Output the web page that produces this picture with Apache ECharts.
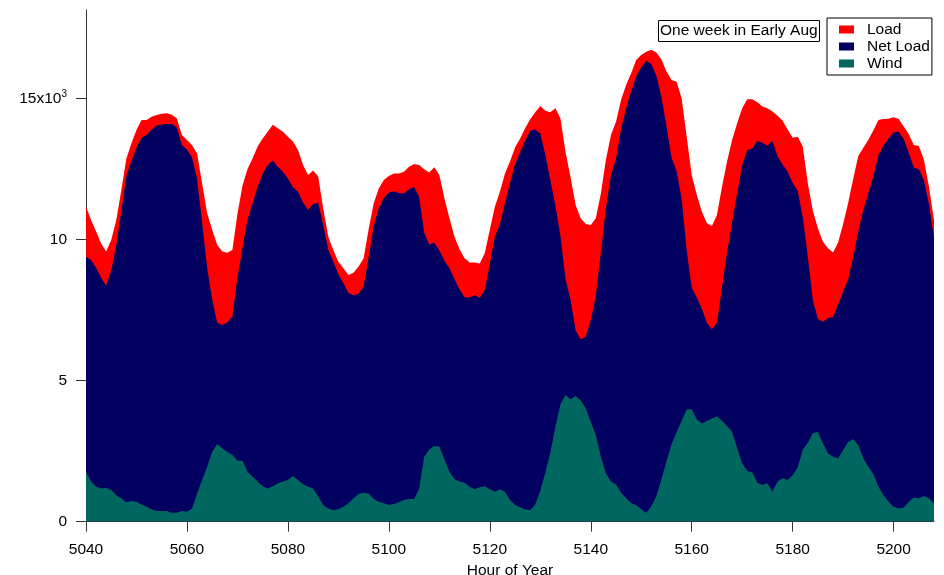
<!DOCTYPE html>
<html>
<head>
<meta charset="utf-8">
<script src="https://cdn.jsdelivr.net/npm/echarts@6.0.0/dist/echarts.min.js"></script>
<style>
html,body{margin:0;padding:0;background:#fff;}
#chart{width:944px;height:575px;}
</style>
</head>
<body>
<div id="chart"></div>
<script>
var startHour = 5040;
var endHour = 5208;
var xTicks = [5040, 5060, 5080, 5100, 5120, 5140, 5160, 5180, 5200];
var xTickLabels = ['5040', '5060', '5080', '5100', '5120', '5140', '5160', '5180', '5200'];
var yTicks = [0, 5000, 10000, 15000];
var yTickLabels = ['0', '5', '10', '15x10{sup|3}'];
var seriesNames = ['Load', 'Net Load', 'Wind'];
var titleText = 'One week in Early Aug';
var xAxisTitle = 'Hour of Year';

var load = [
11160,10690,10280,9860,9570,9980,10690,11750,12870,13410,
13880,14230,14230,14350,14410,14450,14470,14420,14290,13700,
13520,13350,13050,11990,10930,10340,9800,9570,9530,9630,
10900,11900,12500,12870,13290,13580,13820,14060,13940,13820,
13640,13470,13170,12640,12280,12440,12230,11100,10100,9630,
9210,8980,8740,8820,9040,9330,10370,11280,11810,12110,
12250,12340,12340,12400,12580,12670,12640,12490,12370,12560,
12280,11460,10750,10100,9650,9330,9180,9180,9150,9510,
10340,11160,11690,12340,12760,13260,13580,13940,14260,14510,
14730,14560,14510,14650,14290,13100,12200,11220,10750,10550,
10510,10750,11630,12820,13700,14170,14940,15470,15890,16360,
16540,16650,16720,16620,16380,15950,15650,15590,15000,13640,
12280,11580,10990,10570,10480,10870,11870,12760,13520,14120,
14650,14970,14970,14860,14710,14650,14530,14380,14210,13900,
13600,13640,13290,11990,11020,10390,9920,9690,9540,9890,
10550,11300,12150,12960,13250,13530,13870,14230,14270,14280,
14330,14270,14000,13730,13350,13310,12820,11870,10690
];

var netLoad = [
9390,9270,9000,8640,8370,8900,9800,11000,12250,12780,
13250,13600,13700,13900,14040,14070,14090,14100,13970,13340,
13190,12900,12150,10600,9000,7860,7050,6970,7060,7270,
8650,9710,10700,11280,11870,12320,12640,12800,12580,12400,
12160,11850,11690,11310,11040,11260,11300,10510,9630,9220,
8770,8450,8100,8020,8080,8330,9370,10480,11100,11460,
11660,11710,11650,11630,11780,11870,11500,10250,9820,9880,
9620,9250,8980,8600,8230,7950,7940,8030,7930,8200,
9130,10100,10540,11280,11990,12670,13080,13500,13850,13900,
13750,13000,12100,11200,10120,8600,7860,6780,6460,6550,
7150,8000,9550,11110,12280,12850,13910,14640,15240,15770,
16100,16330,16220,15800,15050,14000,12900,12420,11450,9630,
8290,7940,7550,7050,6820,7050,8300,9550,10600,11650,
12620,13170,13220,13500,13430,13320,13490,12950,12660,12410,
12000,11730,10800,9400,7850,7180,7080,7220,7250,7700,
8150,8600,9350,10300,11050,11650,12250,12990,13330,13570,
13800,13820,13560,13070,12550,12490,12100,11250,10070
];

var wind = [
1770,1420,1240,1180,1200,1120,940,830,690,730,
710,610,530,440,380,380,380,320,320,380,
350,470,1000,1480,1950,2480,2750,2600,2470,2360,
2160,2160,1770,1590,1420,1260,1180,1260,1360,1420,
1480,1620,1480,1330,1240,1180,890,590,470,410,
440,530,650,830,980,1030,1000,800,710,650,
590,630,690,770,800,800,1180,2300,2560,2680,
2660,2210,1770,1500,1420,1380,1240,1150,1220,1260,
1150,1060,1150,1060,770,590,500,440,410,610,
1100,1740,2450,3370,4170,4490,4340,4450,4290,4020,
3540,3070,2300,1710,1420,1320,1030,830,650,590,
440,320,550,910,1500,2130,2750,3170,3580,3980,
3980,3630,3480,3570,3660,3740,3580,3390,3190,2600,
2070,1800,1750,1380,1300,1360,1060,1420,1540,1480,
1650,1930,2560,2800,3130,3190,2780,2420,2300,2240,
2540,2830,2920,2720,2240,1950,1690,1240,940,710,
530,470,500,710,860,830,910,830,650
];

var colors = ['#FF0000', '#010060', '#006660'];
var font = 'Liberation Sans, Arial, sans-serif';
var fs = 15.5;

function pairs(vals) {
  return vals.map(function (v, i) { return [startHour + i, v]; });
}

function areaSeries(name, vals, color) {
  return {
    name: name,
    type: 'line',
    data: pairs(vals),
    symbol: 'none',
    showSymbol: false,
    silent: true,
    lineStyle: { width: 0, opacity: 0 },
    itemStyle: { color: color },
    areaStyle: { color: color, opacity: 1 },
    animation: false
  };
}

var chart = echarts.init(document.getElementById('chart'), null, { renderer: 'canvas' });
chart.setOption({
  animation: false,
  backgroundColor: '#fff',
  title: {
    text: titleText,
    left: 658,
    top: 20,
    padding: [3, 2, 3, 2],
    borderColor: '#000',
    borderWidth: 1,
    textStyle: { fontFamily: font, fontSize: fs, fontWeight: 'normal', color: '#000', lineHeight: 16 }
  },
  legend: {
    data: seriesNames.map(function (n) { return { name: n, icon: 'rect' }; }),
    orient: 'vertical',
    left: 827,
    top: 18,
    padding: [3, 2, 3, 12],
    itemWidth: 15,
    itemHeight: 8,
    itemGap: 0,
    selectedMode: false,
    borderColor: '#000',
    borderWidth: 1,
    textStyle: { fontFamily: font, fontSize: fs, color: '#000', lineHeight: 17, padding: [0, 0, 0, 8] }
  },
  grid: { left: 86, right: 10, top: 10, bottom: 53.3, containLabel: false, outerBoundsMode: 'none' },
  xAxis: {
    type: 'value',
    min: startHour,
    max: endHour,
    interval: 20,
    name: xAxisTitle,
    nameLocation: 'middle',
    nameGap: 41,
    nameTextStyle: { fontFamily: font, fontSize: fs, color: '#000' },
    axisLine: { show: true, onZero: false, lineStyle: { color: '#333', width: 1 } },
    axisTick: { show: true, inside: false, length: 10, customValues: xTicks, lineStyle: { color: '#333' } },
    axisLabel: {
      customValues: xTicks,
      fontFamily: font,
      fontSize: fs,
      color: '#000',
      margin: 20,
      formatter: function (v) {
        var idx = xTicks.indexOf(v);
        return idx >= 0 ? xTickLabels[idx] : '';
      }
    },
    splitLine: { show: false }
  },
  yAxis: {
    type: 'value',
    min: 0,
    max: 18130,
    interval: 5000,
    axisLine: { show: true, onZero: false, lineStyle: { color: '#333', width: 1 } },
    axisTick: { show: true, inside: false, length: 10, customValues: yTicks, lineStyle: { color: '#333' } },
    axisLabel: {
      customValues: yTicks,
      fontFamily: font,
      fontSize: fs,
      color: '#000',
      margin: 19,
      formatter: function (v) {
        var idx = yTicks.indexOf(v);
        return idx >= 0 ? yTickLabels[idx] : '';
      },
      rich: {
        sup: { fontFamily: font, fontSize: 10, color: '#000', padding: [0, 0, 9, 0] }
      }
    },
    splitLine: { show: false }
  },
  series: [
    areaSeries(seriesNames[0], load, colors[0]),
    areaSeries(seriesNames[1], netLoad, colors[1]),
    areaSeries(seriesNames[2], wind, colors[2])
  ]
});
</script>
</body>
</html>
